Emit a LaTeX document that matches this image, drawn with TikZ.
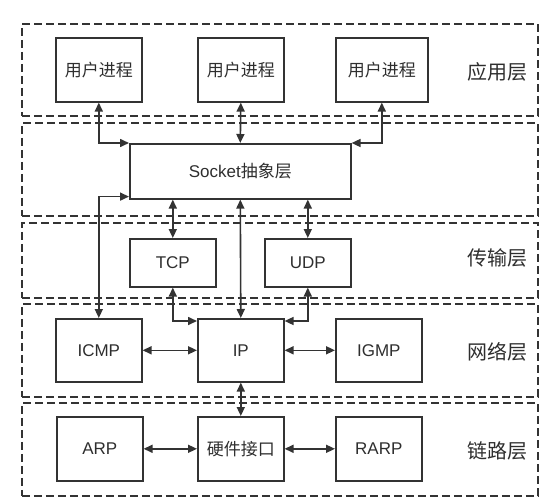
\documentclass[tikz,border=0pt]{standalone}
\usepackage{fontspec}
\setmainfont{Liberation Sans}
\newfontfamily\cjk{Noto Sans CJK SC}
\usetikzlibrary{arrows.meta}
\definecolor{ln}{HTML}{333333}
\definecolor{tx}{HTML}{2E2E2E}
\begin{document}
\begin{tikzpicture}[x=1pt,y=-1pt,
  layerbox/.style={draw=ln, line width=1.6pt, dash pattern=on 8pt off 4pt, anchor=north west, minimum width=516pt, inner sep=0pt},
  box/.style={draw=ln, line width=1.6pt, anchor=north west, minimum width=86pt, minimum height=64pt, inner sep=0pt, text=tx, font=\fontsize{17}{19}\selectfont},
  lbl/.style={text=tx, font=\cjk\fontsize{20}{22}\selectfont, inner sep=0pt},
  conn/.style={draw=ln, line width=1.6pt, {Triangle[length=9pt,width=8pt]}-{Triangle[length=9pt,width=8pt]}}
]
\useasboundingbox (0,0) rectangle (551,500);
% layers
\node[layerbox, minimum height=92pt] (L1) at (21,23) {};
\node[layerbox, minimum height=93pt] (L2) at (21,122) {};
\node[layerbox, minimum height=75pt] (L3) at (21,222) {};
\node[layerbox, minimum height=93pt] (L4) at (21,303) {};
\node[layerbox, minimum height=93pt] (L5) at (21,402) {};
\node[lbl] (t1) at (497,72) {应用层};
\node[lbl] (t3) at (497,258) {传输层};
\node[lbl] (t4) at (497,352) {网络层};
\node[lbl] (t5) at (497,451) {链路层};
% boxes
\node[box] (u1) at (55,37) {\cjk 用户进程};
\node[box] (u2) at (197,37) {\cjk 用户进程};
\node[box, minimum width=92pt] (u3) at (335,37) {\cjk 用户进程};
\node[box, minimum width=221pt, minimum height=55pt] (sock) at (129,143) {Socket{\cjk 抽象层}};
\node[box, minimum height=48pt] (tcp) at (129,238) {TCP};
\node[box, minimum height=48pt] (udp) at (264,238) {UDP};
\node[box, minimum height=63pt] (icmp) at (55,318) {ICMP};
\node[box, minimum height=63pt] (ip) at (197,318) {IP};
\node[box, minimum height=63pt] (igmp) at (335,318) {IGMP};
\node[box, minimum height=64pt] (arp) at (56,416) {ARP};
\node[box, minimum height=64pt] (hw) at (197,416) {\cjk 硬件接口};
\node[box, minimum height=64pt] (rarp) at (335,416) {RARP};
% connectors
\draw[conn] (u1.south) |- (sock.north west);
\draw[conn] (u2.south) -- (sock.north);
\draw[conn] (u3.south) |- (sock.north east);
\draw[conn] (icmp.north) |- ([yshift=3pt]sock.south west);
\draw[conn] (sock.south -| tcp.north) -- (tcp.north);
\draw[conn] (sock.south) -- (ip.north);
\draw[conn] (sock.south -| udp.north) -- (udp.north);
\draw[conn] (tcp.south) |- ([yshift=-3pt]ip.north west);
\draw[conn] (udp.south) |- ([yshift=-3pt]ip.north east);
\draw[conn] (icmp.east) -- (ip.west);
\draw[conn] (ip.east) -- (igmp.west);
\draw[conn] (ip.south) -- (hw.north);
\draw[conn] (arp.east) -- (hw.west);
\draw[conn] (hw.east) -- (rarp.west);
\end{tikzpicture}
\end{document}
